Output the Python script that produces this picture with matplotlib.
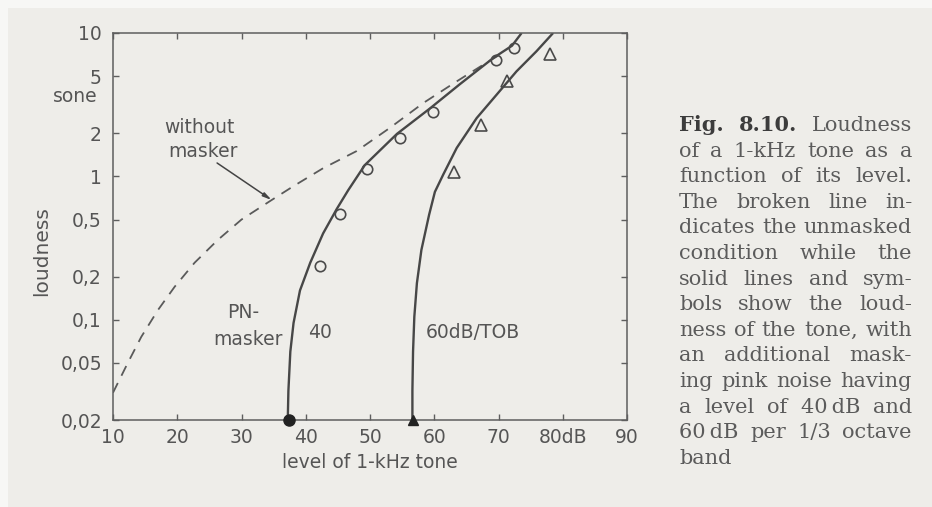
import matplotlib
matplotlib.use("Agg")
import matplotlib.pyplot as plt
from matplotlib.patches import Rectangle

# ---------------- data ----------------
# broken line: loudness without masker
nomask_level = [10.0, 12.3, 14.4, 17.0, 19.6, 22.7, 26.3, 30.0, 34.6, 38.0, 42.7, 47.9, 53.1, 58.3, 63.5, 67.6, 70.2]
nomask_sone = [0.031, 0.050, 0.076, 0.117, 0.17, 0.25, 0.36, 0.50, 0.68, 0.85, 1.14, 1.50, 2.18, 3.25, 4.6, 6.0, 7.06]

# solid line: 40 dB PN masker
m40_level = [37.2, 37.3, 37.6, 38.1, 39.1, 40.7, 42.7, 44.8, 46.6, 49.2, 54.2, 59.3, 64.0, 69.2, 72.1, 73.6]
m40_sone = [0.02, 0.032, 0.06, 0.095, 0.16, 0.25, 0.40, 0.59, 0.80, 1.2, 1.98, 2.97, 4.4, 6.7, 8.15, 10.0]

# solid line: 60 dB/TOB PN masker
m60_level = [56.6, 56.6, 56.7, 56.9, 57.3, 58.0, 59.2, 60.1, 61.4, 63.5, 66.6, 69.7, 72.8, 75.9, 78.5]
m60_sone = [0.02, 0.032, 0.06, 0.105, 0.18, 0.307, 0.54, 0.78, 1.03, 1.58, 2.55, 3.71, 5.4, 7.45, 10.0]

# measured symbols
circ_level = [42.2, 45.3, 49.6, 54.7, 59.8, 69.6, 72.4]
circ_sone = [0.237, 0.547, 1.13, 1.85, 2.81, 6.46, 7.86]
tri_level = [63.1, 67.2, 71.4, 78.0]
tri_sone = [1.07, 2.27, 4.64, 7.14]

# masked thresholds (filled symbols on the abscissa)
thr40_level = [37.4]
thr60_level = [56.7]
thr_sone = [0.02]

x_ticks = [10, 20, 30, 40, 50, 60, 70, 80, 90]
x_ticklabels = ["10", "20", "30", "40", "50", "60", "70", "80dB", "90"]
y_ticks = [0.02, 0.05, 0.1, 0.2, 0.5, 1, 2, 5, 10]
y_ticklabels = ["0,02", "0,05", "0,1", "0,2", "0,5", "1", "2", "5", "10"]

caption_lines = [
    "Fig. 8.10. Loudness",
    "of a 1-kHz tone as a",
    "function of its level.",
    "The broken line in-",
    "dicates the unmasked",
    "condition while the",
    "solid lines and sym-",
    "bols show the loud-",
    "ness of the tone, with",
    "an additional mask-",
    "ing pink noise having",
    "a level of 40\u2009dB and",
    "60\u2009dB per 1/3 octave",
    "band",
]

# ---------------- figure ----------------
W, H = 932, 507
fig = plt.figure(figsize=(W / 100, H / 100), dpi=100, facecolor="#f7f7f5")
fig.patches.append(Rectangle((8 / W, 0), 1, 1 - 8 / H, transform=fig.transFigure,
                             facecolor="#eeede9", edgecolor="none", zorder=-10))

ink = "#474747"
txt = "#555555"

ax = fig.add_axes([113 / W, 1 - 420 / H, 514 / W, 387 / H])
ax.set_facecolor("none")
ax.set_yscale("log")
ax.set_xlim(10, 90)
ax.set_ylim(0.02, 10)

ax.plot(nomask_level, nomask_sone, color="#5a5a5a", lw=1.3, dashes=(6, 4.5))
ax.plot(m40_level, m40_sone, color=ink, lw=1.7, solid_capstyle="butt")
ax.plot(m60_level, m60_sone, color=ink, lw=1.7, solid_capstyle="butt")
ax.plot(circ_level, circ_sone, ls="none", marker="o", ms=7.5, mfc="none", mec="#4a4a4a", mew=1.2)
ax.plot(tri_level, tri_sone, ls="none", marker="^", ms=8, mfc="none", mec="#4a4a4a", mew=1.2)
ax.plot(thr40_level, thr_sone, ls="none", marker="o", ms=8, color="#222222", clip_on=False, zorder=5)
ax.plot(thr60_level, thr_sone, ls="none", marker="^", ms=7, color="#222222", clip_on=False, zorder=5)

for s in ax.spines.values():
    s.set_color("#5e5e5e")
    s.set_linewidth(1.1)

ax.set_xticks(x_ticks)
ax.set_xticklabels(x_ticklabels)
ax.set_yticks(y_ticks)
ax.set_yticklabels(y_ticklabels)
ax.minorticks_off()
ax.tick_params(axis="both", which="major", direction="in", length=4, width=1.0,
               colors="#5e5e5e", labelcolor=txt, labelsize=13.5,
               top=True, right=True)
ax.tick_params(axis="x", pad=6)
ax.tick_params(axis="y", pad=8)

ax.set_xlabel("level of 1-kHz tone", fontsize=13.5, color=txt, labelpad=4)
fig.text(42 / W, 1 - 251 / H, "loudness", rotation=90, ha="center", va="center",
         fontsize=14.5, color=txt)
fig.text(98 / W, 1 - 97 / H, "sone", ha="right", va="center", fontsize=13.5, color=txt)

# annotations in the plot
ax.text(23.4, 2.21, "without", ha="center", va="center", fontsize=13.5, color=txt)
ax.text(24.0, 1.48, "masker", ha="center", va="center", fontsize=13.5, color=txt)
ax.annotate("", xy=(34.7, 0.684), xytext=(26.2, 1.24),
            arrowprops=dict(arrowstyle="-|>,head_length=0.5,head_width=0.12",
                            color="#444444", lw=1.1, shrinkA=0, shrinkB=0))
ax.text(30.2, 0.113, "PN-", ha="center", va="center", fontsize=13.5, color=txt)
ax.text(31.0, 0.0723, "masker", ha="center", va="center", fontsize=13.5, color=txt)
ax.text(40.4, 0.081, "40", ha="left", va="center", fontsize=13.5, color=txt)
ax.text(58.6, 0.082, "60dB/TOB", ha="left", va="center", fontsize=13.5, color=txt)

# ---------------- justified caption ----------------
fig.canvas.draw()
renderer = fig.canvas.get_renderer()
x0, x1 = 679, 912
base0, lead = 131, 25.6
cap_size = 15
for i, line in enumerate(caption_lines):
    words = line.split(" ")
    yb = 1 - (base0 + i * lead) / H
    objs = []
    for j, w in enumerate(words):
        bold = (i == 0 and j < 2)
        t = fig.text(x0 / W, yb, w, ha="left", va="baseline", fontsize=cap_size,
                     family="DejaVu Serif", fontweight="bold" if bold else "normal",
                     color="#3c3c3c" if bold else "#5b5b5b")
        objs.append(t)
    widths = [o.get_window_extent(renderer).width for o in objs]
    last = (i == len(caption_lines) - 1)
    if len(objs) > 1 and not last:
        gap = max(3.0, (x1 - x0 - sum(widths)) / (len(objs) - 1))
    else:
        gap = 6
    x = x0
    for o, wdt in zip(objs, widths):
        o.set_x(x / W)
        x += wdt + gap

fig.savefig("out.png", dpi=100, facecolor=fig.get_facecolor())
